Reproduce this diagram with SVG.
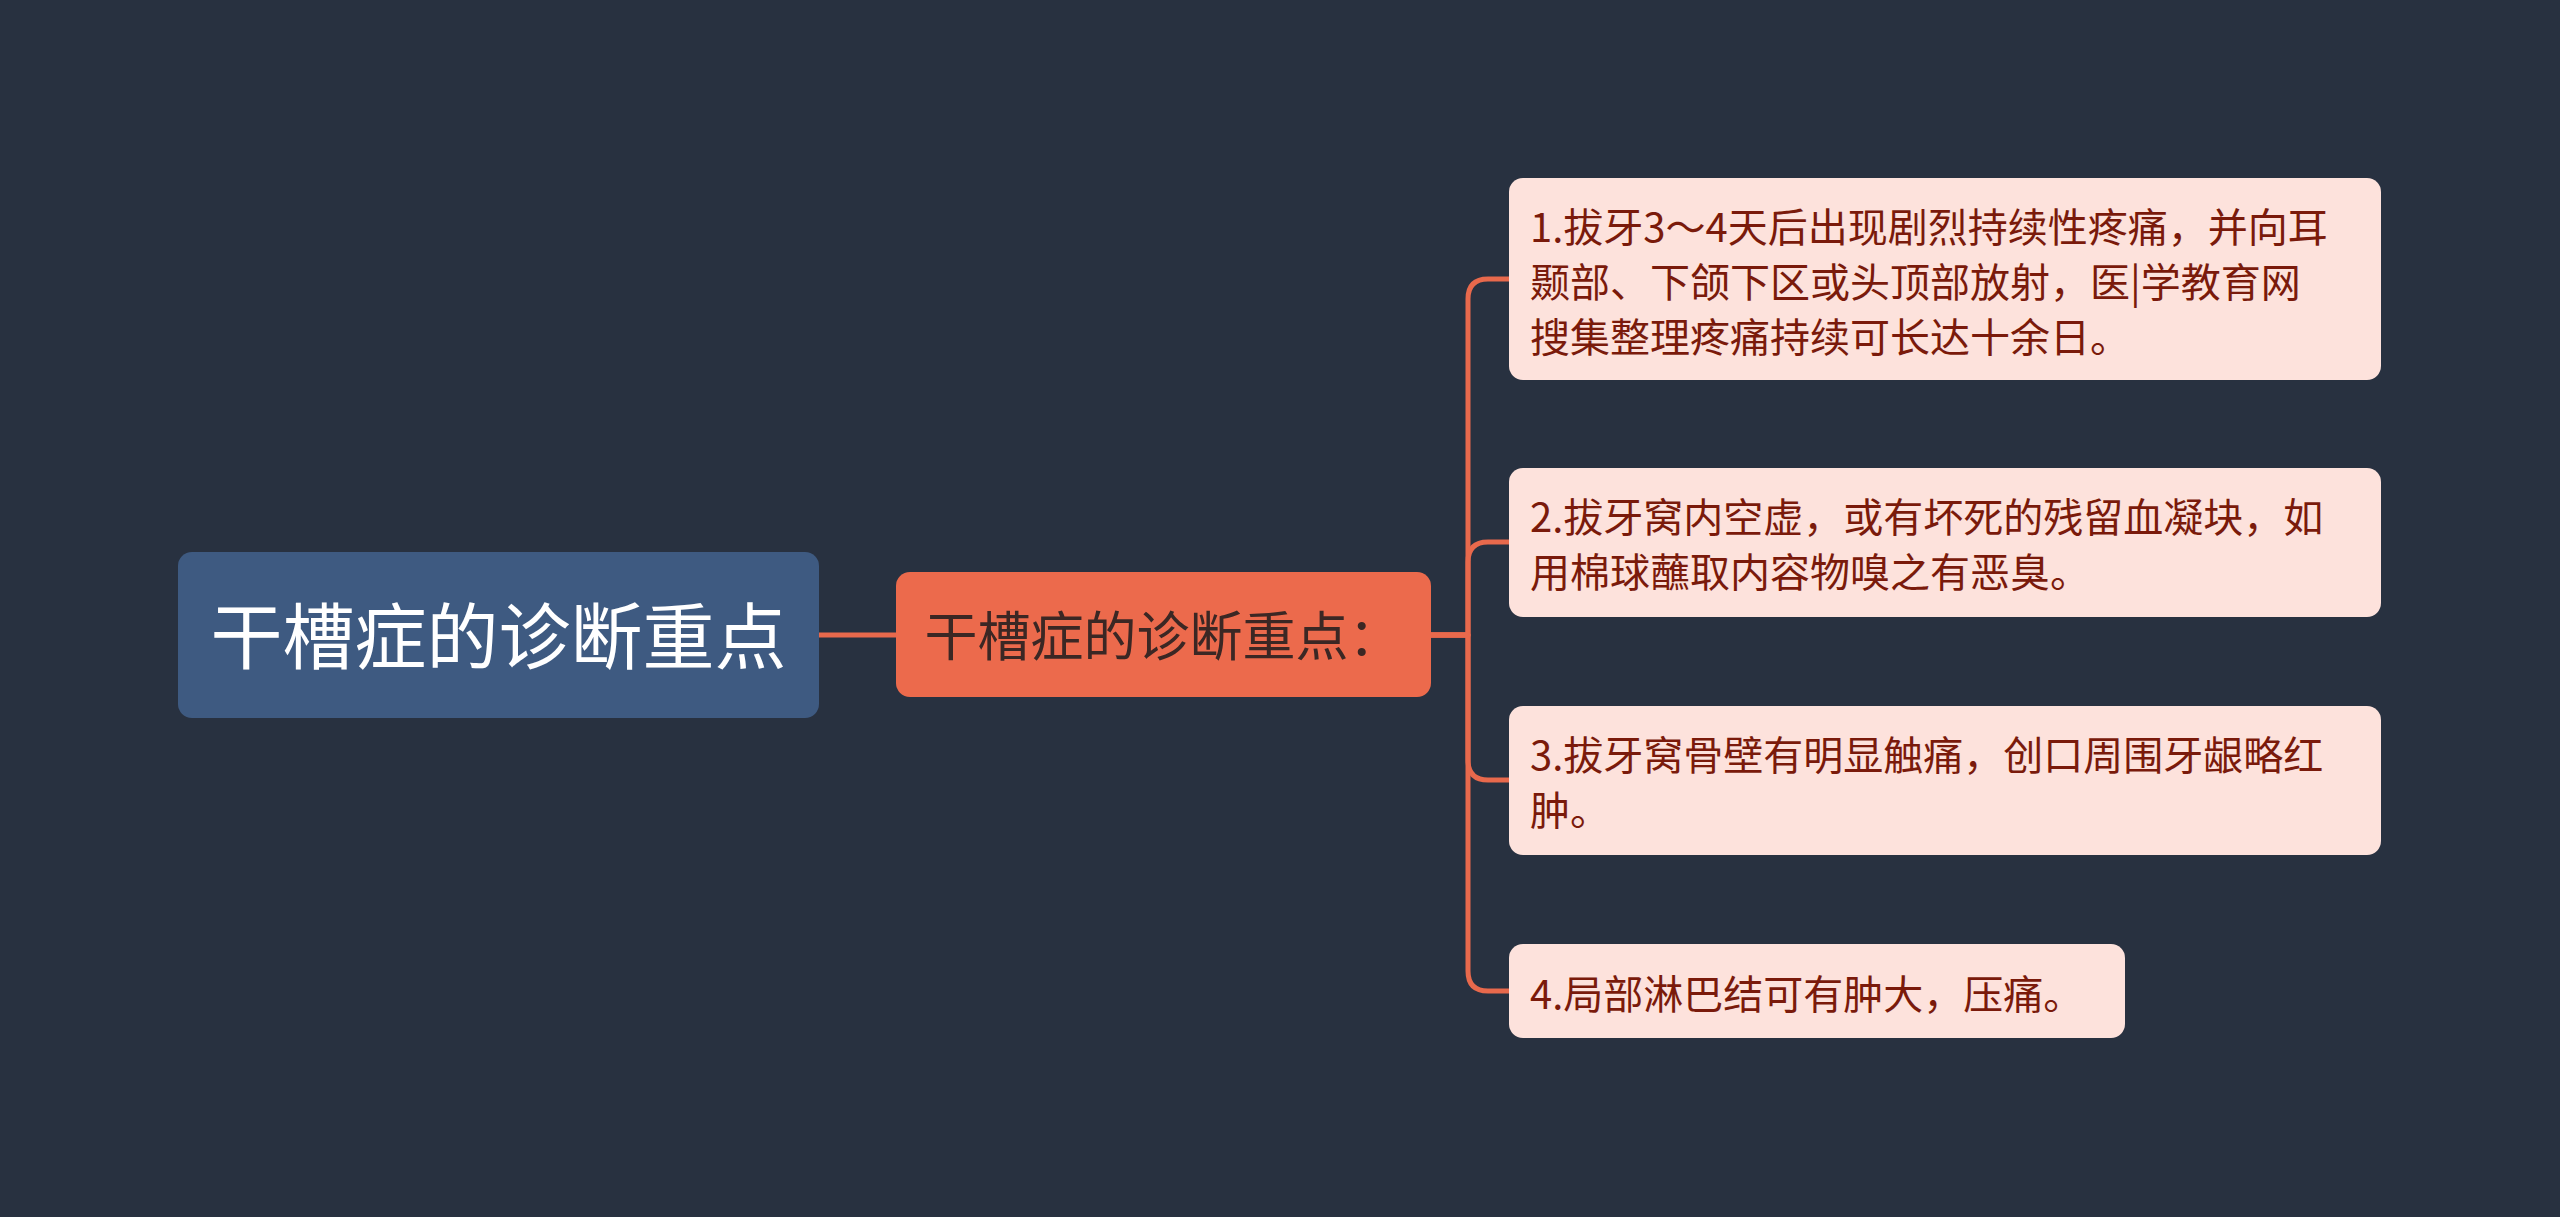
<svg xmlns="http://www.w3.org/2000/svg" width="2560" height="1217" viewBox="0 0 2560 1217">
<style>
.cjk{font-family:"Noto Sans CJK SC","Noto Sans",sans-serif;}
.root-box{fill:#3e5a81;}
.root-text{fill:#ffffff;font-size:72px;}
.mid-box{fill:#ec6a4c;}
.mid-text{fill:#3b2724;font-size:53px;}
.leaf-box{fill:#fde2dc;}
.leaf-text{fill:#7a1a0b;font-size:40px;}
.conn{fill:none;stroke:#e8694c;stroke-width:5;stroke-linecap:round;stroke-linejoin:round;}
</style>
<rect x="0" y="0" width="2560" height="1217" fill="#283140"/>
<g id="connectors">
<path class="conn" d="M819 635 L896 635"/>
<path class="conn" d="M1431 635 L1468 635 L1468 299 Q1468 279 1488 279 L1509 279"/>
<path class="conn" d="M1431 635 L1468 635 L1468 562 Q1468 542 1488 542 L1509 542"/>
<path class="conn" d="M1431 635 L1468 635 L1468 760 Q1468 780 1488 780 L1509 780"/>
<path class="conn" d="M1431 635 L1468 635 L1468 971 Q1468 991 1488 991 L1509 991"/>
</g>
<g id="root">
<rect class="root-box" x="178" y="552" width="641" height="166" rx="14"/>
<text class="cjk root-text" x="498.5" y="663" text-anchor="middle">干槽症的诊断重点</text>
</g>
<g id="middle">
<rect class="mid-box" x="896" y="572" width="535" height="125" rx="14"/>
<text class="cjk mid-text" x="1163" y="656" text-anchor="middle">干槽症的诊断重点：</text>
</g>
<g id="leaf1">
<rect class="leaf-box" x="1509" y="178" width="872" height="202" rx="14"/>
<text class="cjk leaf-text" x="1530" y="242">1.拔牙3～4天后出现剧烈持续性疼痛，并向耳</text>
<text class="cjk leaf-text" x="1530" y="297">颞部、下颌下区或头顶部放射，医|学教育网</text>
<text class="cjk leaf-text" x="1530" y="352">搜集整理疼痛持续可长达十余日。</text>
</g>
<g id="leaf2">
<rect class="leaf-box" x="1509" y="468" width="872" height="149" rx="14"/>
<text class="cjk leaf-text" x="1530" y="532">2.拔牙窝内空虚，或有坏死的残留血凝块，如</text>
<text class="cjk leaf-text" x="1530" y="587">用棉球蘸取内容物嗅之有恶臭。</text>
</g>
<g id="leaf3">
<rect class="leaf-box" x="1509" y="706" width="872" height="149" rx="14"/>
<text class="cjk leaf-text" x="1530" y="770">3.拔牙窝骨壁有明显触痛，创口周围牙龈略红</text>
<text class="cjk leaf-text" x="1530" y="825">肿。</text>
</g>
<g id="leaf4">
<rect class="leaf-box" x="1509" y="944" width="616" height="94" rx="14"/>
<text class="cjk leaf-text" x="1530" y="1009">4.局部淋巴结可有肿大，压痛。</text>
</g>
</svg>
